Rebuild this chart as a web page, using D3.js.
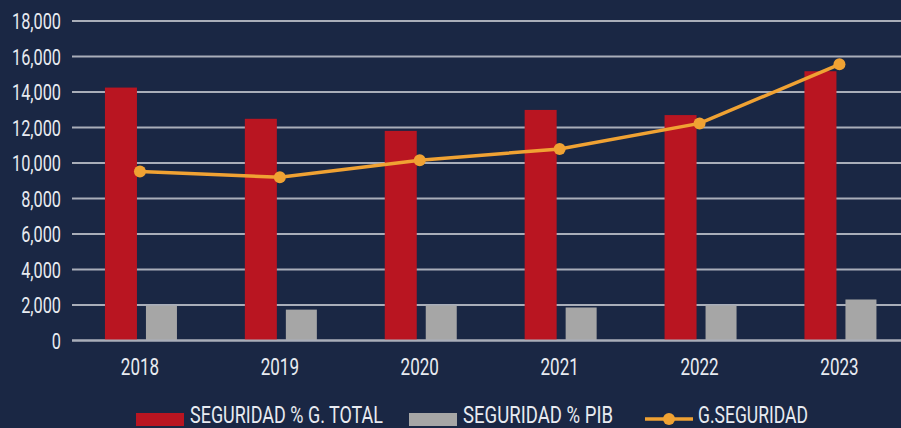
<!DOCTYPE html>
<html><head><meta charset="utf-8">
<script src="https://cdn.jsdelivr.net/npm/d3@7"></script>
<style>
html,body{margin:0;padding:0;background:#1a2744;}
svg{display:block;}
text{font-family:Roboto,"Liberation Sans",sans-serif;fill:#e8ebf1;}
</style></head><body>
<svg id="c" width="901" height="428"></svg>
<script>
const years = ["2018","2019","2020","2021","2022","2023"];
const segTotal = [14250, 12490, 11810, 12990, 12700, 15170];
const segPib = [1960, 1740, 1970, 1860, 1970, 2310];
const gSeg = [9520, 9200, 10160, 10790, 12230, 15560];
const yTicks = [0,2000,4000,6000,8000,10000,12000,14000,16000,18000];
const legendLabels = ["SEGURIDAD % G. TOTAL","SEGURIDAD % PIB","G.SEGURIDAD"];

const W = 901, H = 428;
const svg = d3.select("#c");
svg.append("rect").attr("width",W).attr("height",H).attr("fill","#1a2744");

const x = d3.scaleBand().domain(years).range([70, 909.4]);
const y = d3.scaleLinear().domain([0,18000]).range([340.5, 21]);

function condense(sel, factor){
  sel.each(function(){
    const l = this.getComputedTextLength();
    d3.select(this).attr("textLength", l*factor).attr("lengthAdjust","spacingAndGlyphs");
  });
}

// grid
svg.append("g").selectAll("line").data(yTicks).join("line")
  .attr("x1",72).attr("x2",W)
  .attr("y1",d=>y(d)).attr("y2",d=>y(d))
  .attr("stroke","#a9aeb9").attr("stroke-width",2);

// y axis labels
const yAxis = d3.axisLeft(y).tickValues(yTicks).tickFormat(d3.format(",")).tickSize(0).tickPadding(0);
const ya = svg.append("g").attr("transform","translate(61,0)").call(yAxis);
ya.select(".domain").remove();
ya.selectAll("text").attr("font-size",22).attr("fill","#e8ebf1").attr("dy","0.36em")
  .style("font-family","Roboto");
condense(ya.selectAll("text"), 0.74);

// bars
const c = d => x(d) + x.bandwidth()/2;
svg.append("g").selectAll("rect").data(years).join("rect")
  .attr("x",(d)=>c(d)-35).attr("width",32)
  .attr("y",(d,i)=>y(segTotal[i])).attr("height",(d,i)=>y(0)-y(segTotal[i]))
  .attr("fill","#b91521");
svg.append("g").selectAll("rect").data(years).join("rect")
  .attr("x",(d)=>c(d)+6).attr("width",31)
  .attr("y",(d,i)=>y(segPib[i])).attr("height",(d,i)=>y(0)-y(segPib[i]))
  .attr("fill","#a6a6a6");

svg.append("line").attr("x1",72).attr("x2",W).attr("y1",y(0)).attr("y2",y(0))
  .attr("stroke","#a9aeb9").attr("stroke-width",2);

// line
const line = d3.line().x((d,i)=>c(years[i])).y(d=>y(d));
svg.append("path").datum(gSeg).attr("d",line).attr("fill","none")
  .attr("stroke","#f0a233").attr("stroke-width",3.5);
svg.append("g").selectAll("circle").data(gSeg).join("circle")
  .attr("cx",(d,i)=>c(years[i])).attr("cy",d=>y(d)).attr("r",6).attr("fill","#f0a233");

// x axis labels
const xAxis = d3.axisBottom(x).tickSize(0).tickPadding(0);
const xa = svg.append("g").attr("transform","translate(0,360)").call(xAxis);
xa.select(".domain").remove();
xa.selectAll("text").attr("font-size",23).attr("fill","#e8ebf1").attr("dy","0.71em").attr("y",-1)
  .style("font-family","Roboto");
condense(xa.selectAll("text"), 0.74);

// legend
const lg = svg.append("g");
const items = [
  {label:legendLabels[0], type:"rect", color:"#b91521", sx:136, tx:190, tw:193},
  {label:legendLabels[1], type:"rect", color:"#a6a6a6", sx:409, tx:463, tw:150},
  {label:legendLabels[2], type:"line", color:"#f0a233", sx:645, tx:698, tw:110}
];
items.forEach(it=>{
  if(it.type==="rect"){
    lg.append("rect").attr("x",it.sx).attr("y",413).attr("width",48).attr("height",13).attr("fill",it.color);
  } else {
    lg.append("line").attr("x1",it.sx).attr("x2",it.sx+48).attr("y1",419).attr("y2",419)
      .attr("stroke",it.color).attr("stroke-width",3.5);
    lg.append("circle").attr("cx",it.sx+24).attr("cy",419).attr("r",6).attr("fill",it.color);
  }
  lg.append("text").attr("x",it.tx).attr("y",422.5).attr("font-size",24)
    .attr("textLength",it.tw).attr("lengthAdjust","spacingAndGlyphs").text(it.label);
});
</script>
</body></html>
